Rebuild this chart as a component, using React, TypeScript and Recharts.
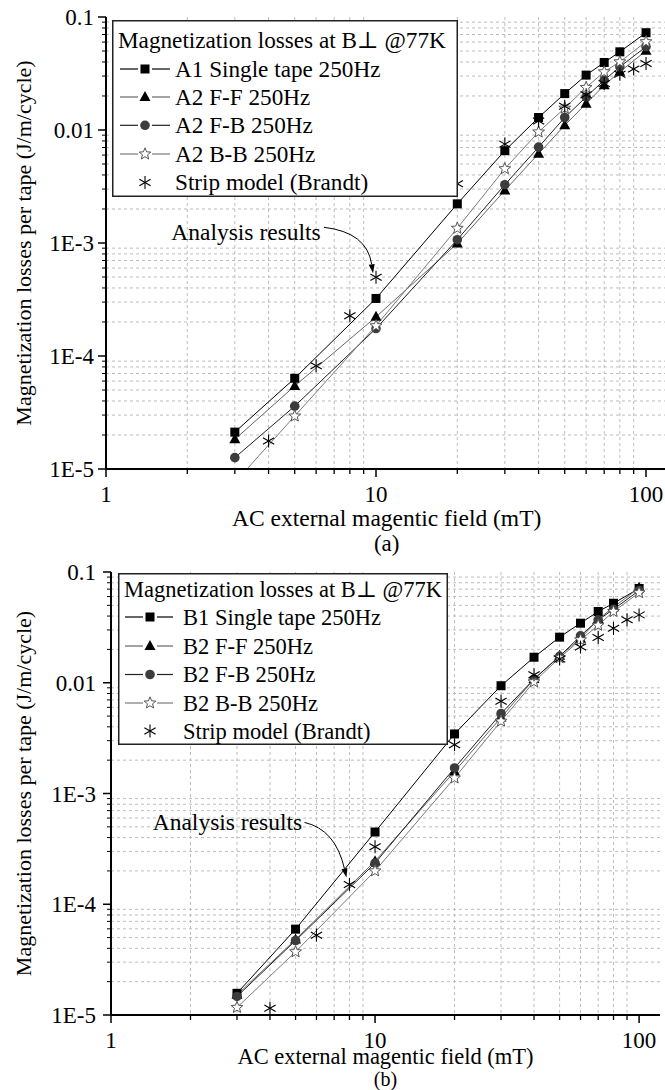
import React from 'react';
import {
  ComposedChart,
  Line,
  XAxis,
  YAxis,
  CartesianGrid,
  Legend,
  ReferenceDot,
  Label,
} from 'recharts';

const FONT = '"Liberation Serif", "Times New Roman", Times, "DejaVu Serif", serif';

// ---------- axes ----------
const xMajor = [1, 10, 100];
const xTickLabels = ['1', '10', '100'];
const xMinor = [2, 3, 4, 5, 6, 7, 8, 9, 20, 30, 40, 50, 60, 70, 80, 90];
const yMajor = [1e-5, 1e-4, 1e-3, 0.01, 0.1];
const yTickLabels = ['1E-5', '1E-4', '1E-3', '0.01', '0.1'];
const yMinor = [
  2e-5, 3e-5, 4e-5, 5e-5, 6e-5, 7e-5, 8e-5, 9e-5,
  2e-4, 3e-4, 4e-4, 5e-4, 6e-4, 7e-4, 8e-4, 9e-4,
  2e-3, 3e-3, 4e-3, 5e-3, 6e-3, 7e-3, 8e-3, 9e-3,
  0.02, 0.03, 0.04, 0.05, 0.06, 0.07, 0.08, 0.09,
];
const xDomain = [1, 120];
const yDomain = [1e-5, 0.1];

// ---------- panel (a) data ----------
const fieldA = [3, 5, 10, 20, 30, 40, 50, 60, 70, 80, 100];
const lossA1 = [2.12e-5, 6.35e-5, 3.23e-4, 2.22e-3, 6.56e-3, 0.0129, 0.021, 0.0306, 0.0396, 0.0492, 0.0726];
const lossA2FF = [1.83e-5, 5.43e-5, 2.22e-4, 9.9e-4, 2.92e-3, 6.17e-3, 0.011, 0.0171, 0.0249, 0.0327, 0.0502];
const lossA2FB = [1.26e-5, 3.6e-5, 1.75e-4, 1.07e-3, 3.28e-3, 7.06e-3, 0.0129, 0.0196, 0.0276, 0.0362, 0.0546];
const lossA2BB = [7.6e-6, 2.94e-5, 1.85e-4, 1.35e-3, 4.54e-3, 9.6e-3, 0.0156, 0.0238, 0.0327, 0.0401, 0.0604];
const stripFieldA = [4, 6, 8, 10, 20, 30, 40, 50, 60, 70, 80, 90, 100];
const stripA = [1.77e-5, 8.2e-5, 2.27e-4, 4.97e-4, 3.35e-3, 7.5e-3, 0.012, 0.0162, 0.0205, 0.0258, 0.0312, 0.0346, 0.0388];

// ---------- panel (b) data ----------
const fieldB = [3, 5, 10, 20, 30, 40, 50, 60, 70, 80, 100];
const lossB1 = [1.57e-5, 5.96e-5, 4.49e-4, 3.45e-3, 9.4e-3, 0.017, 0.0258, 0.0345, 0.044, 0.0522, 0.071];
const lossB2FF = [1.52e-5, 4.8e-5, 2.45e-4, 1.58e-3, 4.85e-3, 0.0108, 0.0175, 0.025, 0.0375, 0.048, 0.072];
const lossB2FB = [1.47e-5, 4.7e-5, 2.35e-4, 1.7e-3, 5.26e-3, 0.0108, 0.0173, 0.0265, 0.037, 0.046, 0.068];
const lossB2BB = [1.17e-5, 3.72e-5, 2.0e-4, 1.38e-3, 4.5e-3, 0.0102, 0.0168, 0.0244, 0.033, 0.044, 0.065];
const stripFieldB = [4, 6, 8, 10, 20, 30, 40, 50, 60, 70, 80, 90, 100];
const stripB = [1.15e-5, 5.26e-5, 1.51e-4, 3.3e-4, 2.76e-3, 6.8e-3, 0.0118, 0.0164, 0.021, 0.0256, 0.031, 0.037, 0.041];

const legendTitle = 'Magnetization losses at B\u22A5 @77K';
const namesA = ['A1 Single tape 250Hz', 'A2 F-F 250Hz', 'A2 F-B 250Hz', 'A2 B-B 250Hz', 'Strip model (Brandt)'];
const namesB = ['B1 Single tape 250Hz', 'B2 F-F 250Hz', 'B2 F-B 250Hz', 'B2 B-B 250Hz', 'Strip model (Brandt)'];
const xTitle = 'AC external magentic field (mT)';
const yTitle = 'Magnetization losses per tape (J/m/cycle)';
const annotText = 'Analysis results';

const kinds = ['square', 'triangle', 'circle', 'star', 'asterisk'];
const lineColors = ['#000000', '#666666', '#222222', '#7a7a7a', 'none'];

const TICK_FS = 23;
const TITLE_FS = 23.5;
const YTITLE_FS = 22;

const zip = (xs: number[], ys: number[]) => xs.map((x, i) => ({ x, y: ys[i] }));

// ---------- markers ----------
const starPoints = (cx: number, cy: number, R: number, r: number) => {
  const pts: string[] = [];
  for (let i = 0; i < 10; i++) {
    const ang = -Math.PI / 2 + (i * Math.PI) / 5;
    const rad = i % 2 === 0 ? R : r;
    pts.push(`${cx + rad * Math.cos(ang)},${cy + rad * Math.sin(ang)}`);
  }
  return pts.join(' ');
};

const Marker = ({ kind, cx, cy }: { kind: string; cx: number; cy: number }) => {
  switch (kind) {
    case 'square':
      return <rect x={cx - 4.5} y={cy - 4.5} width={9} height={9} fill="#000" />;
    case 'triangle':
      return <polygon points={`${cx},${cy - 6} ${cx + 5.5},${cy + 4} ${cx - 5.5},${cy + 4}`} fill="#000" />;
    case 'circle':
      return <circle cx={cx} cy={cy} r={4.8} fill="#3c3c3c" />;
    case 'star':
      return <polygon points={starPoints(cx, cy, 6.2, 2.7)} fill="#fff" stroke="#555" strokeWidth={1} />;
    default: {
      const L = 6.5;
      const segs = [90, 30, 150].map((deg) => {
        const a = (deg * Math.PI) / 180;
        return (
          <line
            key={deg}
            x1={cx - L * Math.cos(a)}
            y1={cy - L * Math.sin(a)}
            x2={cx + L * Math.cos(a)}
            y2={cy + L * Math.sin(a)}
            stroke="#000"
            strokeWidth={1.1}
          />
        );
      });
      return <g>{segs}</g>;
    }
  }
};

const makeDot = (kind: string) => (p: any) => {
  const { cx, cy, index } = p;
  if (cx == null || cy == null || Number.isNaN(cx) || Number.isNaN(cy)) return <g key={`n${index}`} />;
  return (
    <g key={`m${index}`}>
      <Marker kind={kind} cx={cx} cy={cy} />
    </g>
  );
};

// ---------- ticks ----------
const findMajor = (arr: number[], v: number) => arr.findIndex((m) => Math.abs(m - v) / m < 1e-6);

const makeYTick = (gap: number) => (props: any) => {
  const { x, y, payload } = props;
  const idx = findMajor(yMajor, payload.value);
  const major = idx >= 0;
  return (
    <g>
      <line x1={x - (major ? 8 : 4)} x2={x} y1={y} y2={y} stroke="#000" strokeWidth={major ? 1.5 : 1} />
      {major && (
        <text x={x - gap} y={y} dy="0.35em" textAnchor="end" fontSize={TICK_FS} fontFamily={FONT} fill="#000">
          {yTickLabels[idx]}
        </text>
      )}
    </g>
  );
};

const XTick = (props: any) => {
  const { x, y, payload } = props;
  const idx = findMajor(xMajor, payload.value);
  const major = idx >= 0;
  return (
    <g>
      <line x1={x} x2={x} y1={y} y2={y + (major ? 8 : 5)} stroke="#000" strokeWidth={major ? 1.5 : 1.3} />
      {major && (
        <text x={x} y={y + 25} dy="0.35em" textAnchor="middle" fontSize={TICK_FS} fontFamily={FONT} fill="#000">
          {xTickLabels[idx]}
        </text>
      )}
    </g>
  );
};

// ---------- panel ----------
type PanelCfg = {
  height: number;
  margin: { top: number; right: number; bottom: number; left: number };
  yAxisWidth: number;
  xAxisHeight: number;
  yLabelGap: number;
  xTitleDy: number;
  xTitleFs: number;
  captionDy: number;
  captionFs: number;
  caption: string;
  series: { name: string; data: { x: number; y: number }[] }[];
  legend: {
    left: number; top: number; w: number; h: number; titleX: number; fs: number;
    rowYs: number[]; lineX1: number; lineX2: number; markerX: number; textX: number;
  };
  annot: {
    x: number; y: number; tx: number; ty: number; sx: number; sy: number;
    qx: number; qy: number; ex: number; ey: number;
  };
};

const Panel = ({ cfg }: { cfg: PanelCfg }) => {
  const xTicks = [...xMajor, ...xMinor].sort((a, b) => a - b);
  const yTicks = [...yMajor, ...yMinor].sort((a, b) => a - b);
  const lg = cfg.legend;
  const an = cfg.annot;

  const legendContent = () => (
    <svg width={lg.w} height={lg.h} style={{ display: 'block' }}>
      <rect x={0.75} y={0.75} width={lg.w - 1.5} height={lg.h - 1.5} fill="#fff" stroke="#222" strokeWidth={1.5} />
      <text x={lg.titleX} y={lg.rowYs[0]} dy="0.34em" fontFamily={FONT} fontSize={lg.fs} fill="#000">
        {legendTitle}
      </text>
      {cfg.series.map((s, i) => {
        const cy = lg.rowYs[i + 1];
        return (
          <g key={s.name}>
            {lineColors[i] !== 'none' && (
              <>
                <line x1={lg.lineX1} x2={lg.markerX - 7} y1={cy} y2={cy} stroke={lineColors[i]} strokeWidth={1.2} />
                <line x1={lg.markerX + 7} x2={lg.lineX2} y1={cy} y2={cy} stroke={lineColors[i]} strokeWidth={1.2} />
              </>
            )}
            <Marker kind={kinds[i]} cx={lg.markerX} cy={cy} />
            <text x={lg.textX} y={cy} dy="0.34em" fontFamily={FONT} fontSize={lg.fs} fill="#000">
              {s.name}
            </text>
          </g>
        );
      })}
    </svg>
  );

  const annotShape = (p: any) => {
    const { cx, cy } = p;
    if (cx == null || cy == null) return <g />;
    const ex = cx + an.ex;
    const ey = cy + an.ey;
    const qx = cx + an.qx;
    const qy = cy + an.qy;
    const ang = Math.atan2(ey - qy, ex - qx);
    const hl = 9;
    const hw = 3;
    const bx = ex - hl * Math.cos(ang);
    const by = ey - hl * Math.sin(ang);
    const px = -Math.sin(ang);
    const py = Math.cos(ang);
    return (
      <g>
        <text x={cx + an.tx} y={cy + an.ty} dy="0.35em" textAnchor="middle" fontFamily={FONT} fontSize={TITLE_FS} fill="#000">
          {annotText}
        </text>
        <path
          d={`M ${cx + an.sx} ${cy + an.sy} Q ${qx} ${qy} ${bx} ${by}`}
          fill="none"
          stroke="#000"
          strokeWidth={1}
        />
        <polygon
          points={`${ex},${ey} ${bx + hw * px},${by + hw * py} ${bx - hw * px},${by - hw * py}`}
          fill="#000"
        />
      </g>
    );
  };

  return (
    <ComposedChart width={665} height={cfg.height} margin={cfg.margin}>
      <CartesianGrid
        stroke="#bdbdbd"
        strokeDasharray="3 3"
        horizontalValues={yMinor}
        verticalValues={xMinor}
      />
      <XAxis
        dataKey="x"
        type="number"
        scale="log"
        domain={xDomain}
        allowDataOverflow
        ticks={xTicks}
        interval={0}
        tickSize={0}
        tickMargin={0}
        tickLine={false}
        axisLine={{ stroke: '#000', strokeWidth: 2 }}
        tick={XTick}
        height={cfg.xAxisHeight}
      >
        <Label
          content={(p: any) => {
            const vb = p.viewBox;
            const cx = vb.x + vb.width / 2;
            return (
              <g>
                <text x={cx} y={vb.y + cfg.xTitleDy} dy="0.35em" textAnchor="middle" fontFamily={FONT} fontSize={cfg.xTitleFs} fill="#000">
                  {xTitle}
                </text>
                <text x={cx} y={vb.y + cfg.captionDy} dy="0.35em" textAnchor="middle" fontFamily={FONT} fontSize={cfg.captionFs} fill="#000">
                  {cfg.caption}
                </text>
              </g>
            );
          }}
        />
      </XAxis>
      <XAxis
        xAxisId="top"
        orientation="top"
        type="number"
        scale="log"
        domain={xDomain}
        allowDataOverflow
        height={0}
        tick={false}
        tickLine={false}
        axisLine={{ stroke: '#000', strokeWidth: 1.5 }}
      />
      <YAxis
        type="number"
        scale="log"
        domain={yDomain}
        allowDataOverflow
        ticks={yTicks}
        interval={0}
        tickSize={0}
        tickMargin={0}
        tickLine={false}
        axisLine={{ stroke: '#000', strokeWidth: 2 }}
        tick={makeYTick(cfg.yLabelGap)}
        width={cfg.yAxisWidth}
      >
        <Label
          content={(p: any) => {
            const vb = p.viewBox;
            const cy = vb.y + vb.height / 2;
            const cx = 23;
            return (
              <text
                x={cx}
                y={cy}
                dy="0.35em"
                textAnchor="middle"
                transform={`rotate(-90 ${cx} ${cy})`}
                fontFamily={FONT}
                fontSize={YTITLE_FS}
                fill="#000"
              >
                {yTitle}
              </text>
            );
          }}
        />
      </YAxis>
      <YAxis
        yAxisId="right"
        orientation="right"
        type="number"
        scale="log"
        domain={yDomain}
        allowDataOverflow
        width={0}
        tick={false}
        tickLine={false}
        axisLine={{ stroke: '#000', strokeWidth: 1.5 }}
      />
      <Legend
        layout="vertical"
        align="center"
        verticalAlign="middle"
        content={legendContent}
        wrapperStyle={{ position: 'absolute', left: lg.left, top: lg.top, width: lg.w, height: lg.h, margin: 0, padding: 0 }}
      />
      {cfg.series.map((s, i) => (
        <Line
          key={s.name}
          name={s.name}
          data={s.data}
          dataKey="y"
          stroke={lineColors[i]}
          strokeWidth={lineColors[i] === 'none' ? 0 : 1}
          dot={makeDot(kinds[i])}
          activeDot={false}
          isAnimationActive={false}
        />
      ))}
      <ReferenceDot x={an.x} y={an.y} r={0} shape={annotShape} />
    </ComposedChart>
  );
};

const cfgA: PanelCfg = {
  height: 560,
  margin: { top: 17, right: -2.4, bottom: 0, left: 0 },
  yAxisWidth: 106,
  xAxisHeight: 91,
  yLabelGap: 12,
  xTitleDy: 49,
  xTitleFs: 23.5,
  captionDy: 74,
  captionFs: 23,
  caption: '(a)',
  series: [
    { name: namesA[0], data: zip(fieldA, lossA1) },
    { name: namesA[1], data: zip(fieldA, lossA2FF) },
    { name: namesA[2], data: zip(fieldA, lossA2FB) },
    { name: namesA[3], data: zip(fieldA, lossA2BB) },
    { name: namesA[4], data: zip(stripFieldA, stripA) },
  ],
  legend: {
    left: 112, top: 20, w: 346, h: 177, titleX: 6, fs: 23.2,
    rowYs: [20, 49, 77, 105.3, 134, 162.5], lineX1: 8, lineX2: 58, markerX: 33, textX: 63,
  },
  annot: {
    x: 10, y: stripA[stripFieldA.indexOf(10)],
    tx: -130, ty: -46, sx: -52, sy: -50, qx: -9, qy: -45, ex: -3, ey: -4,
  },
};

const cfgB: PanelCfg = {
  height: 545,
  margin: { top: 27, right: 5, bottom: 0, left: 0 },
  yAxisWidth: 111,
  xAxisHeight: 75,
  yLabelGap: 15,
  xTitleDy: 41,
  xTitleFs: 22.5,
  captionDy: 64,
  captionFs: 20,
  caption: '(b)',
  series: [
    { name: namesB[0], data: zip(fieldB, lossB1) },
    { name: namesB[1], data: zip(fieldB, lossB2FF) },
    { name: namesB[2], data: zip(fieldB, lossB2FB) },
    { name: namesB[3], data: zip(fieldB, lossB2BB) },
    { name: namesB[4], data: zip(stripFieldB, stripB) },
  ],
  legend: {
    left: 118, top: 28, w: 330, h: 172, titleX: 6, fs: 22.5,
    rowYs: [16, 44, 73, 101.5, 130, 158], lineX1: 7, lineX2: 55, markerX: 32, textX: 65,
  },
  annot: {
    x: 8, y: stripB[stripFieldB.indexOf(8)],
    tx: -122, ty: -63, sx: -45, sy: -62, qx: -14, qy: -55, ex: -3, ey: -7,
  },
};

export default function App() {
  return (
    <div style={{ position: 'absolute', left: 0, top: 0, width: 665, height: 1090, background: '#fff', overflow: 'hidden' }}>
      <div style={{ position: 'absolute', left: 0, top: 0 }}>
        <Panel cfg={cfgA} />
      </div>
      <div style={{ position: 'absolute', left: 0, top: 545 }}>
        <Panel cfg={cfgB} />
      </div>
    </div>
  );
}
